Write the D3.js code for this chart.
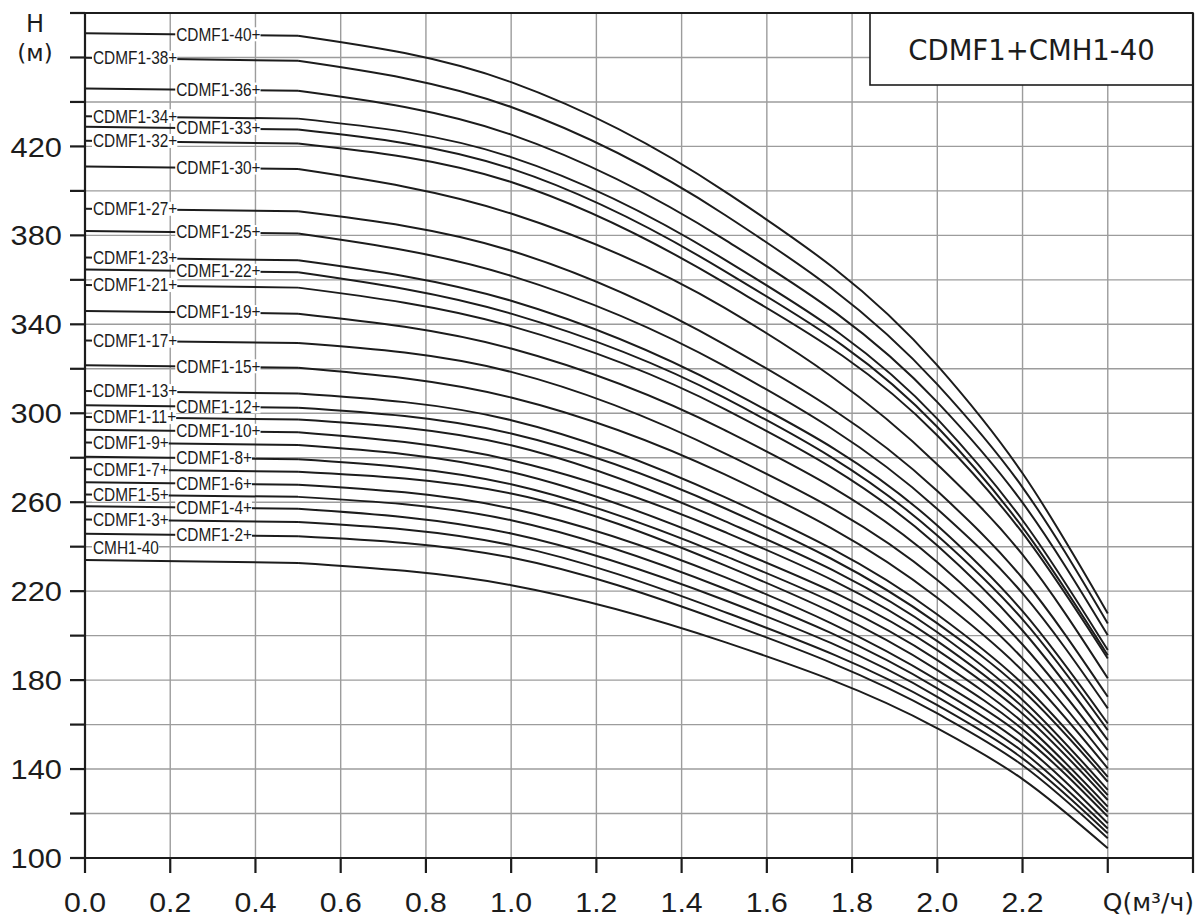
<!DOCTYPE html>
<html>
<head>
<meta charset="utf-8">
<script src="https://cdn.jsdelivr.net/npm/d3@7"></script>
<style>
  html, body { margin: 0; padding: 0; background: #fff; }
  svg { display: block; }
</style>
</head>
<body>
<svg id="chart" width="1197" height="917"></svg>
<script>
// ---------------- DATA ----------------
const models = ["CDMF1-40+","CDMF1-38+","CDMF1-36+","CDMF1-34+","CDMF1-33+","CDMF1-32+","CDMF1-30+",
  "CDMF1-27+","CDMF1-25+","CDMF1-23+","CDMF1-22+","CDMF1-21+","CDMF1-19+","CDMF1-17+","CDMF1-15+",
  "CDMF1-13+","CDMF1-12+","CDMF1-11+","CDMF1-10+","CDMF1-9+","CDMF1-8+","CDMF1-7+","CDMF1-6+",
  "CDMF1-5+","CDMF1-4+","CDMF1-3+","CDMF1-2+","CMH1-40"];

// flow points (m³/h)
const flow = [0, 0.5, 1.0, 1.5, 2.0, 2.2, 2.4];

// head (m) of each model at each flow point
const headQ00 = [470.9,459.9,446.0,433.6,428.8,422.5,411.0,392.0,382.0,370.0,364.6,357.7,346.0,332.7,321.6,310.0,303.6,298.3,292.6,286.8,280.4,274.8,269.0,263.5,258.2,252.2,245.8,234.0];
const headQ05 = [469.8,458.5,445.0,432.5,427.6,421.3,409.8,390.8,380.8,368.8,363.4,356.5,344.8,331.6,320.5,308.9,302.5,297.2,291.5,285.7,279.3,273.7,267.9,262.4,257.1,251.1,244.7,232.7];
const headQ10 = [448.9,437.7,425.3,415.2,410.0,404.0,389.8,373.1,361.8,350.6,344.8,339.2,329.1,318.6,307.1,296.9,290.9,285.6,278.9,273.6,268.1,263.9,257.2,251.9,245.9,240.7,235.1,222.7];
const headQ15 = [399.9,389.4,378.2,369.2,364.0,358.7,347.5,331.0,321.3,311.5,307.0,302.0,292.5,282.1,272.6,262.4,257.4,251.6,246.7,240.7,236.0,231.7,226.4,221.2,216.0,210.7,206.2,197.2];
const headQ20 = [321.5,313.0,305.0,297.5,293.8,290.0,277.0,265.0,257.0,249.5,245.0,240.5,233.0,225.0,217.0,209.5,205.5,201.5,197.5,193.5,189.0,184.5,180.0,176.3,172.5,168.7,165.0,158.3];
const headQ22 = [273.0,266.7,259.8,251.9,248.7,246.2,236.4,225.8,219.0,211.0,207.3,202.3,196.0,189.8,184.2,178.4,175.4,171.1,168.0,164.9,161.1,157.9,154.8,151.2,147.9,144.8,141.7,135.5];
const headQ24 = [210.0,205.5,200.2,193.5,191.2,189.7,180.8,172.5,167.3,160.5,157.5,153.0,148.5,144.0,140.3,136.5,134.3,130.6,128.3,126.1,123.1,120.8,118.6,115.6,113.3,111.1,108.9,104.4];

const xTicks = [0, 0.2, 0.4, 0.6, 0.8, 1.0, 1.2, 1.4, 1.6, 1.8, 2.0, 2.2, 2.4, 2.6];
const xTickLabels = ["0.0","0.2","0.4","0.6","0.8","1.0","1.2","1.4","1.6","1.8","2.0","2.2"];
const xUnitLabel = "Q(м³/ч)";
const yTicks = [100,120,140,160,180,200,220,240,260,280,300,320,340,360,380,400,420,440,460,480];
const yTickLabels = [100,140,180,220,260,300,340,380,420];
const yTitle = "H";
const yUnit = "(м)";
const legendTitle = "CDMF1+CMH1-40";

// ---------------- DRAW ----------------
const heads = [headQ00, headQ05, headQ10, headQ15, headQ20, headQ22, headQ24];
const svg = d3.select("#chart");
const x = d3.scaleLinear().domain([0, 2.6]).range([85, 1193]);
const y = d3.scaleLinear().domain([100, 480]).range([858, 13]);

const gridColor = "#9c9c9c";
const ink = "#1c1c1c";

function stretch(sel, k) {
  sel.each(function () {
    const n = this.getComputedTextLength();
    d3.select(this).attr("textLength", n * k).attr("lengthAdjust", "spacingAndGlyphs");
  });
  return sel;
}

// grid
const grid = svg.append("g");
grid.selectAll("line.v").data(xTicks.filter(v => v > 0 && v < 2.5)).join("line")
  .attr("x1", d => x(d)).attr("x2", d => x(d))
  .attr("y1", y(100)).attr("y2", y(480))
  .attr("stroke", gridColor).attr("stroke-width", 1.4);
grid.selectAll("line.h").data(yTicks.filter(v => v > 100 && v < 480)).join("line")
  .attr("x1", x(0)).attr("x2", x(2.6))
  .attr("y1", d => y(d)).attr("y2", d => y(d))
  .attr("stroke", gridColor).attr("stroke-width", 1.4);

// curves
const curves = svg.append("g");
const flatLine = d3.line().x(d => x(d[0])).y(d => y(d[1]));
const smoothLine = d3.line().x(d => x(d[0])).y(d => y(d[1])).curve(d3.curveMonotoneX);
models.forEach((m, i) => {
  const pts = flow.map((q, j) => [q, heads[j][i]]);
  curves.append("path").attr("d", flatLine(pts.slice(0, 2)))
    .attr("fill", "none").attr("stroke", ink).attr("stroke-width", 2);
  curves.append("path").attr("d", smoothLine(pts.slice(1)))
    .attr("fill", "none").attr("stroke", ink).attr("stroke-width", 2);
});

// curve labels
const labels = svg.append("g");
models.forEach((m, i) => {
  const mid = i % 2 === 0;
  const lx = mid ? x(0.2) + 6 : x(0) + 8;
  const q = x.invert(lx);
  const h = headQ00[i] + (headQ05[i] - headQ00[i]) * (q / 0.5);
  const above = !m.endsWith("+");
  const cy = y(h) + (above ? -12 : 0);
  const g = labels.append("g");
  const r = g.append("rect").attr("fill", "#fff");
  const t = g.append("text").text(m)
    .attr("x", lx).attr("y", cy).attr("dy", "0.36em")
    .attr("font-family", "'Liberation Sans', Arial, sans-serif")
    .attr("font-size", 17.5).attr("fill", ink);
  const natural = t.node().getComputedTextLength();
  const len = natural * 0.88;
  t.attr("textLength", len).attr("lengthAdjust", "spacingAndGlyphs");
  r.attr("x", lx - 1).attr("y", cy - 7).attr("width", len + 1).attr("height", 14);
});

// legend box
svg.append("rect").attr("x", 870).attr("y", y(480)).attr("width", x(2.6) - 870).attr("height", 72)
  .attr("fill", "#fff").attr("stroke", ink).attr("stroke-width", 1.6);
svg.append("text").text(legendTitle)
  .attr("x", (870 + x(2.6)) / 2).attr("y", 60).attr("text-anchor", "middle")
  .attr("font-family", "'DejaVu Sans', sans-serif").attr("font-size", 27.5).attr("fill", ink);

// axes frame
const axes = svg.append("g").attr("stroke", ink).attr("stroke-width", 2.2);
axes.append("line").attr("x1", x(0)).attr("x2", x(0)).attr("y1", y(480)).attr("y2", y(100));
axes.append("line").attr("x1", x(0)).attr("x2", x(2.6)).attr("y1", y(100)).attr("y2", y(100));
axes.append("line").attr("x1", x(0) - 15).attr("x2", x(2.6)).attr("y1", y(480)).attr("y2", y(480));
axes.append("line").attr("x1", x(2.6)).attr("x2", x(2.6)).attr("y1", y(480)).attr("y2", y(100));
// left ticks
axes.selectAll("line.yt").data(yTicks).join("line")
  .attr("x1", x(0) - 15).attr("x2", x(0)).attr("y1", d => y(d)).attr("y2", d => y(d));
// bottom ticks
axes.selectAll("line.xt").data(xTicks).join("line")
  .attr("x1", d => x(d)).attr("x2", d => x(d)).attr("y1", y(100)).attr("y2", y(100) + 15);

// tick labels
const numFont = "'Liberation Sans', Arial, sans-serif";
stretch(svg.append("g").selectAll("text").data(yTickLabels).join("text")
  .text(d => d).attr("x", 62).attr("y", d => y(d)).attr("dy", "0.36em")
  .attr("text-anchor", "end").attr("font-family", numFont).attr("font-size", 28).attr("fill", ink), 1.1);
stretch(svg.append("g").selectAll("text").data(xTickLabels).join("text")
  .text(d => d).attr("x", (d, i) => x(xTicks[i])).attr("y", 912)
  .attr("text-anchor", "middle").attr("font-family", numFont).attr("font-size", 28).attr("fill", ink), 1.08);
svg.append("text").text(xUnitLabel).attr("x", x(2.4) - 5).attr("y", 911)
  .attr("font-family", "'DejaVu Sans', sans-serif").attr("font-size", 25).attr("fill", ink);

// y title
svg.append("text").text(yTitle).attr("x", 35).attr("y", 32).attr("text-anchor", "middle")
  .attr("font-family", "'DejaVu Sans', sans-serif").attr("font-size", 24).attr("fill", ink);
svg.append("text").text(yUnit).attr("x", 35).attr("y", 61).attr("text-anchor", "middle")
  .attr("font-family", "'DejaVu Sans', sans-serif").attr("font-size", 23).attr("fill", ink);
</script>
</body>
</html>
